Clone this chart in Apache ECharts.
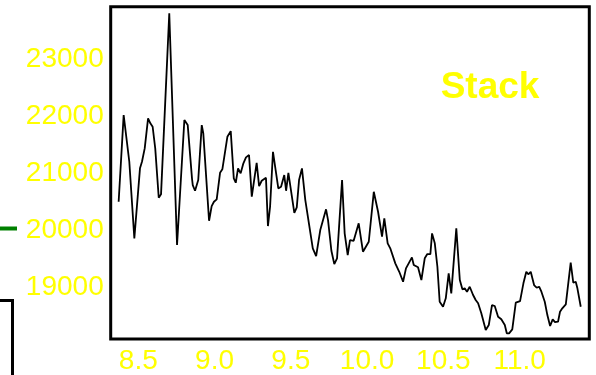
<!DOCTYPE html>
<html>
<head>
<meta charset="utf-8">
<script src="https://cdn.jsdelivr.net/npm/echarts@6/dist/echarts.min.js"></script>
<style>html,body{margin:0;padding:0;background:#fff;}#c{width:596px;height:375px;}</style>
</head>
<body>
<div id="c"></div>
<script>
// Data
const xValues = [8.371,8.404,8.441,8.474,8.511,8.524,8.542,8.564,8.579,8.594,8.611,8.634,8.649,8.703,8.754,8.802,8.824,8.852,8.857,8.872,8.893,8.916,8.926,8.964,8.981,8.996,9.014,9.036,9.051,9.084,9.106,9.126,9.139,9.154,9.171,9.189,9.206,9.226,9.244,9.276,9.292,9.309,9.337,9.350,9.364,9.383,9.418,9.436,9.457,9.469,9.484,9.523,9.539,9.554,9.573,9.595,9.608,9.644,9.666,9.676,9.693,9.731,9.744,9.766,9.785,9.803,9.836,9.853,9.873,9.888,9.912,9.945,9.973,10.011,10.044,10.072,10.098,10.113,10.135,10.152,10.185,10.211,10.236,10.255,10.294,10.306,10.334,10.356,10.378,10.395,10.415,10.426,10.444,10.461,10.476,10.498,10.516,10.535,10.552,10.585,10.608,10.625,10.640,10.655,10.673,10.695,10.712,10.728,10.749,10.778,10.798,10.819,10.837,10.859,10.880,10.903,10.916,10.931,10.952,10.975,11.003,11.025,11.044,11.057,11.073,11.095,11.112,11.128,11.143,11.165,11.182,11.200,11.217,11.232,11.252,11.265,11.280,11.303,11.335,11.352,11.368,11.379,11.401];
const yValues = [20503,22026,21206,19859,21090,21206,21441,21968,21881,21821,21441,20573,20633,23814,19742,21939,21851,20914,20796,20696,20884,21851,21710,20169,20427,20503,20545,21012,21072,21645,21745,20914,20837,21090,21002,21178,21283,21323,20591,21188,20779,20872,20924,20076,20415,21381,20738,20766,20972,20696,21012,20309,20404,20884,21090,20533,20515,19684,19548,19578,20005,20369,20181,19641,19408,19508,20884,19947,19566,19830,19817,20123,19624,19800,20678,20327,19888,20211,19772,19684,19420,19272,19097,19332,19525,19390,19350,19127,19508,19583,19583,19947,19772,19360,18745,18657,18805,19244,18893,20035,19127,18963,18981,18921,19009,18863,18775,18717,18541,18248,18336,18687,18670,18482,18436,18336,18190,18190,18260,18728,18757,19069,19272,19227,19272,19039,18991,19009,18921,18745,18511,18318,18436,18388,18394,18569,18629,18699,19431,19079,19097,18981,18657];
const xTicks = [8.5, 9.0, 9.5, 10.0, 10.5, 11.0];
const yTicks = [19000, 20000, 21000, 22000, 23000];
const xRange = [8.319, 11.457];
const yRange = [18090, 23930];
const titleText = 'Stack';

const chart = echarts.init(document.getElementById('c'), null, {renderer: 'canvas'});
const font = '"Liberation Sans", Arial, sans-serif';
chart.setOption({
  animation: false,
  backgroundColor: '#ffffff',
  grid: {left: 110.7, right: 6.7, top: 6.8, bottom: 36, show: true, borderColor: '#000', borderWidth: 3, backgroundColor: 'transparent'},
  xAxis: {
    type: 'value', min: xRange[0], max: xRange[1],
    axisLine: {show: false}, axisTick: {show: false}, splitLine: {show: false},
    axisLabel: {customValues: xTicks, color: '#ffff00', fontSize: 28, fontFamily: font, margin: 8,
      formatter: v => Number(v).toFixed(1)}
  },
  yAxis: {
    type: 'value', min: yRange[0], max: yRange[1],
    axisLine: {show: false}, axisTick: {show: false}, splitLine: {show: false},
    axisLabel: {customValues: yTicks, color: '#ffff00', fontSize: 28, fontFamily: font, margin: 7,
      formatter: v => String(Math.round(v))}
  },
  series: [{
    type: 'line', data: xValues.map((x, i) => [x, yValues[i]]),
    showSymbol: false, lineStyle: {color: '#000', width: 1.8}, itemStyle: {color: '#000'}
  }],
  graphic: [
    {type: 'text', x: 490, y: 88, style: {text: titleText, fill: '#ffff00', font: 'bold 37px "Liberation Sans", Arial, sans-serif', textAlign: 'center', textVerticalAlign: 'middle'}},
    {type: 'line', shape: {x1: 0, y1: 228.5, x2: 17, y2: 228.5}, style: {stroke: '#008000', lineWidth: 4}},
    {type: 'polyline', shape: {points: [[-5, 300.5], [12.5, 300.5], [12.5, 380]]}, style: {stroke: '#000', lineWidth: 3, fill: null}}
  ]
});
</script>
</body>
</html>
